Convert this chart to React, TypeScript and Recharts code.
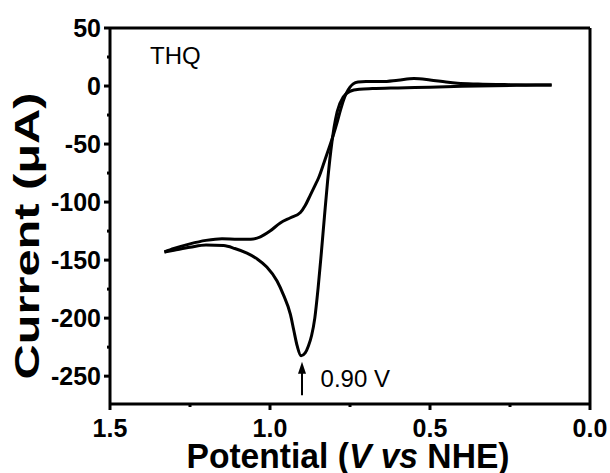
import React from 'react';
import { LineChart, Line, XAxis, YAxis, ReferenceLine, ReferenceDot } from 'recharts';

// Forward scan (0.12 V -> 1.33 V)
const forwardPotential = [
  0.12, 0.2, 0.3, 0.4, 0.5, 0.6, 0.68, 0.72, 0.75, 0.77, 0.79, 0.8, 0.81, 0.82, 0.83, 0.84,
  0.85, 0.86, 0.87, 0.88, 0.89, 0.903, 0.915, 0.926, 0.936, 0.958, 0.978, 1.01, 1.04, 1.072,
  1.11, 1.145, 1.2, 1.25, 1.3, 1.33,
];
const forwardCurrent = [
  0.9, 0.7, 0.3, -0.3, -1.0, -1.6, -2.2, -2.8, -4.5, -9, -22, -36, -56, -82, -113, -145,
  -175, -200, -215, -224, -230, -232.5, -224, -210, -197, -180, -168, -156, -149, -144,
  -140, -137.5, -137, -139, -141.5, -143,
];

// Return scan (1.33 V -> 0.12 V)
const returnPotential = [
  1.33, 1.3, 1.25, 1.2, 1.15, 1.1, 1.06, 1.03, 1.0, 0.968, 0.936, 0.905, 0.89, 0.874, 0.86,
  0.848, 0.83, 0.815, 0.803, 0.79, 0.78, 0.77, 0.76, 0.75, 0.74, 0.725, 0.7, 0.65, 0.6,
  0.55, 0.5, 0.45, 0.414, 0.35, 0.25, 0.12,
];
const returnCurrent = [
  -143, -140, -136, -133, -131.5, -132, -132, -130, -125, -118, -113.5, -109, -103, -94, -86,
  -79, -65, -53, -43, -31, -21, -12, -5.5, -1, 1.8, 3.5, 4.0, 3.8, 5.0,
  6.4, 5.2, 3.4, 2.4, 1.7, 1.2, 0.9,
];

const xTicks = [0, 0.25, 0.5, 0.75, 1.0, 1.25, 1.5];
const xMajorTicks = [0, 0.5, 1.0, 1.5];
const yTicks = [-250, -225, -200, -175, -150, -125, -100, -75, -50, -25, 0, 25, 50];
const yMajorTicks = [-250, -200, -150, -100, -50, 0, 50];

const sampleName = 'THQ';
const samplePos = { E: 1.375, I: 19 };
const peakText = '0.90 V';
const peakTextPos = { E: 0.842, I: -259.5 };
const arrowPotential = 0.9;
const arrowTip = -237.6;
const arrowTail = -266.4;

const FONT = 'Liberation Sans, Arial, Helvetica, sans-serif';

const forwardData = forwardPotential.map((E, i) => ({ E, I: forwardCurrent[i] }));
const returnData = returnPotential.map((E, i) => ({ E, I: returnCurrent[i] }));

const isMajor = (list: number[], v: number) => list.some((m) => Math.abs(m - v) < 1e-6);

const XTick = (props: any) => {
  const { x, y, payload } = props;
  const major = isMajor(xMajorTicks, payload.value);
  return (
    <g>
      <line x1={x} y1={y} x2={x} y2={y + (major ? 6 : 3)} stroke="#000" strokeWidth={3} />
      {major && (
        <text x={x} y={y + 33} textAnchor="middle" fontSize={25} fontWeight="bold" fontFamily={FONT} fill="#000">
          {Number(payload.value).toFixed(1)}
        </text>
      )}
    </g>
  );
};

const YTick = (props: any) => {
  const { x, y, payload } = props;
  const major = isMajor(yMajorTicks, payload.value);
  return (
    <g>
      <line x1={x} y1={y} x2={x - (major ? 6 : 3)} y2={y} stroke="#000" strokeWidth={3} />
      {major && (
        <text x={x - 9} y={y} dy="0.36em" textAnchor="end" fontSize={25} fontWeight="bold" fontFamily={FONT} fill="#000">
          {payload.value}
        </text>
      )}
    </g>
  );
};

const YLabel = (props: any) => {
  const vb = props.viewBox || { x: 0, y: 28, width: 110, height: 376 };
  const cx = vb.x + 39;
  const cy = vb.y + vb.height / 2 + 20;
  return (
    <text
      x={cx}
      y={cy}
      transform={`rotate(-90, ${cx}, ${cy})`}
      textAnchor="middle"
      fontSize={35}
      fontWeight="bold"
      fontFamily={FONT}
      fill="#000"
      textLength={287}
      lengthAdjust="spacingAndGlyphs"
    >
      Current (μA)
    </text>
  );
};

const XLabel = (props: any) => {
  const vb = props.viewBox || { x: 110, y: 404, width: 480, height: 69 };
  const cx = vb.x + vb.width / 2 - 2;
  const by = vb.y + 64;
  return (
    <text
      x={cx}
      y={by}
      textAnchor="middle"
      fontSize={35}
      fontWeight="bold"
      fontFamily={FONT}
      fill="#000"
      textLength={323}
      lengthAdjust="spacingAndGlyphs"
    >
      Potential (<tspan fontStyle="italic">V</tspan> <tspan fontStyle="italic">vs</tspan> NHE)
    </text>
  );
};

const TextShape = (text: string) => (props: any) => (
  <text x={props.cx} y={props.cy} fontSize={24} fontFamily={FONT} fill="#000">
    {text}
  </text>
);

const ArrowShape = (props: any) => {
  const { x1, y1, x2, y2 } = props;
  const tipY = Math.min(y1, y2);
  const tailY = Math.max(y1, y2);
  const x = x1;
  return (
    <g>
      <line x1={x} y1={tailY} x2={x} y2={tipY + 8} stroke="#000" strokeWidth={2} />
      <polygon points={`${x},${tipY} ${x - 4},${tipY + 12} ${x + 4},${tipY + 12}`} fill="#000" />
    </g>
  );
};

export default function App() {
  return (
    <div style={{ position: 'absolute', left: 0, top: 0, background: '#fff' }}>
      <LineChart width={610} height={473} margin={{ top: 28, right: 20, bottom: 0, left: 0 }}>
        <XAxis
          dataKey="E"
          type="number"
          domain={[0, 1.5]}
          reversed
          ticks={xTicks}
          interval={0}
          allowDataOverflow
          height={69}
          tickSize={0}
          tickMargin={0}
          tickLine={false}
          axisLine={{ stroke: '#000', strokeWidth: 3 }}
          tick={<XTick />}
          label={{ content: (p: any) => <XLabel {...p} /> }}
        />
        <YAxis
          dataKey="I"
          type="number"
          domain={[-274, 50]}
          ticks={yTicks}
          interval={0}
          allowDataOverflow
          width={110}
          tickSize={0}
          tickMargin={0}
          tickLine={false}
          axisLine={{ stroke: '#000', strokeWidth: 3 }}
          tick={<YTick />}
          label={{ content: (p: any) => <YLabel {...p} /> }}
        />
        <ReferenceLine y={50} stroke="#000" strokeWidth={3} ifOverflow="visible" />
        <ReferenceLine x={0} stroke="#000" strokeWidth={3} ifOverflow="visible" />
        <Line
          data={forwardData}
          dataKey="I"
          type="monotone"
          stroke="#000"
          strokeWidth={3}
          dot={false}
          isAnimationActive={false}
        />
        <Line
          data={returnData}
          dataKey="I"
          type="monotone"
          stroke="#000"
          strokeWidth={3}
          dot={false}
          isAnimationActive={false}
        />
        <ReferenceDot x={samplePos.E} y={samplePos.I} r={0} ifOverflow="visible" shape={TextShape(sampleName)} />
        <ReferenceDot x={peakTextPos.E} y={peakTextPos.I} r={0} ifOverflow="visible" shape={TextShape(peakText)} />
        <ReferenceLine
          segment={[
            { x: arrowPotential, y: arrowTip },
            { x: arrowPotential, y: arrowTail },
          ]}
          ifOverflow="visible"
          shape={ArrowShape}
        />
      </LineChart>
    </div>
  );
}
